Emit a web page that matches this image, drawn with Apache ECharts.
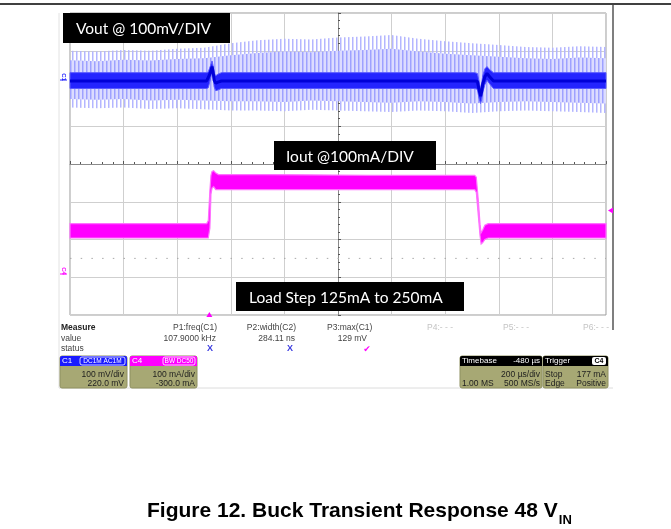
<!DOCTYPE html>
<html><head><meta charset="utf-8">
<script src="https://cdn.jsdelivr.net/npm/echarts@6/dist/echarts.min.js"></script>
<style>html,body{margin:0;padding:0;background:#fff}#c{width:671px;height:529px}</style>
</head><body><div id="c"></div>
<script>
// ---------------- data ----------------
// screen: 10 div x 8 div
const divX = [-5, 5];
const divY = [-4, 4];
const refLevelDiv = -2.5;                  // faint dotted reference line
// time axis: 200 us/div, trigger delay -480 us
const timeRange = [-520, 1480];            // us
// C1 Vout: 100 mV/div, offset 220 mV
const voutRange = [-620, 180];             // mV
// C4 Iout: 100 mA/div, offset -300 mA
const ioutRange = [-100, 700];             // mA
const triggerTime = 0;                     // us
const triggerLevel = 177;                  // mA

// Vout switching-noise spike envelope (mV)
const spikeTime = [-520,-420,-320,-220,-120,-20,80,180,280,380,480,580,680,780,880,980,1080,1180,1280,1380,1480];
const spikeHi   = [80,78,82,80,85,88,100,108,112,110,115,118,122,112,105,100,95,90,88,92,90];
const spikeLo   = [-70,-72,-70,-74,-72,-75,-78,-78,-80,-76,-78,-80,-82,-78,-80,-85,-80,-78,-80,-82,-85];
// denser inner part of the spikes (mV)
const spikeInHi = [55,52,56,54,58,60,68,74,78,76,80,82,85,78,72,68,64,60,58,62,60];
const spikeInLo = [-48,-50,-48,-52,-50,-52,-54,-54,-56,-52,-54,-56,-58,-54,-56,-60,-56,-54,-56,-58,-60];

// Vout dense trace band (mV)
const denseTime = [-520,-300,-100,-10,-4,4,10,14,18,24,32,45,200,500,800,990,1000,1006,1012,1016,1020,1028,1036,1046,1060,1200,1480];
const denseHi   = [22,22,22,22,24,40,53,40,20,14,18,22,22,22,22,22,20,0,-20,-8,14,32,38,30,22,22,22];
const denseLo   = [-20,-20,-20,-20,-18,5,25,8,-16,-26,-24,-20,-20,-20,-20,-20,-22,-45,-60,-50,-30,-10,2,-8,-20,-20,-20];
const voutMid   = [0,0,0,0,3,22,38,24,2,-6,-3,0,0,0,0,0,-1,-22,-40,-29,-8,11,20,11,0,0,0];

// Iout trace band (mA), load step 125 mA -> 250 mA
const iTime = [-520,-10,-4,2,6,10,16,24,34,50,200,600,990,996,1004,1010,1014,1020,1028,1040,1060,1480];
const iHi   = [142,142,150,230,270,280,282,276,272,272,272,270,270,265,200,140,118,125,138,142,142,142];
const iLo   = [104,104,104,130,220,236,240,232,232,232,232,232,232,225,160,110,88,92,100,104,104,104];

// texts
const labelVout = 'Vout @ 100mV/DIV';
const labelIout = 'Iout @100mA/DIV';
const labelLoad = 'Load Step 125mA to 250mA';
const measNames = ['P1:freq(C1)', 'P2:width(C2)', 'P3:max(C1)'];
const measValues = ['107.9000 kHz', '284.11 ns', '129 mV'];
const captionMain = 'Figure 12. Buck Transient Response 48 V';
const captionSub = 'IN';

// ---------------- chart ----------------
const chart = echarts.init(document.getElementById('c'), null, {renderer: 'canvas'});

function stripePattern(color, period, w, off, bg) {
  const cv = document.createElement('canvas');
  cv.width = period; cv.height = 2;
  const ctx = cv.getContext('2d');
  if (bg) { ctx.fillStyle = bg; ctx.fillRect(0, 0, period, 2); }
  ctx.fillStyle = color;
  ctx.fillRect(off || 0, 0, w, 2);
  return {image: cv, repeat: 'repeat'};
}

function band(name, times, lo, hi, yAxisIndex, style, z) {
  return {
    type: 'custom', name, xAxisIndex: 1, yAxisIndex, z, silent: true,
    data: times.map((t, i) => [t, lo[i], hi[i]]),
    encode: {x: 0, y: [1, 2]},
    renderItem: function (params, api) {
      if (params.dataIndex !== 0) return null;
      const pts = [];
      for (let i = 0; i < times.length; i++) pts.push(api.coord([times[i], hi[i]]));
      for (let i = times.length - 1; i >= 0; i--) pts.push(api.coord([times[i], lo[i]]));
      return {type: 'polygon', shape: {points: pts}, style: style};
    }
  };
}

const G = {left: 70, top: 13, width: 536, height: 302};

const option = {
  animation: false,
  backgroundColor: '#fff',
  grid: Object.assign({show: true, borderColor: '#9a9a9a', borderWidth: 1, backgroundColor: 'transparent'}, G),
  xAxis: [
    {type: 'value', min: divX[0], max: divX[1], interval: 1,
     axisLine: {show: true, onZero: true, onZeroAxisIndex: 0, lineStyle: {color: '#8a8a8a', width: 1}},
     axisTick: {show: true, inside: true, length: 3, lineStyle: {color: '#555'}},
     minorTick: {show: true, splitNumber: 5, length: 2, lineStyle: {color: '#555'}},
     axisLabel: {show: false},
     splitLine: {show: true, lineStyle: {color: '#cfcfcf', width: 1}}},
    {type: 'value', min: timeRange[0], max: timeRange[1], show: false}
  ],
  yAxis: [
    {type: 'value', min: divY[0], max: divY[1], interval: 1,
     axisLine: {show: true, onZero: true, onZeroAxisIndex: 0, lineStyle: {color: '#8a8a8a', width: 1}},
     axisTick: {show: true, inside: true, length: 3, lineStyle: {color: '#555'}},
     minorTick: {show: true, splitNumber: 5, length: 2, lineStyle: {color: '#555'}},
     axisLabel: {show: false},
     splitLine: {show: true, lineStyle: {color: '#cfcfcf', width: 1}}},
    {type: 'value', min: voutRange[0], max: voutRange[1], show: false},
    {type: 'value', min: ioutRange[0], max: ioutRange[1], show: false}
  ],
  series: [
    {type: 'line', xAxisIndex: 0, yAxisIndex: 0, silent: true, symbol: 'none', z: 1,
     data: [[divX[0], refLevelDiv], [divX[1], refLevelDiv]],
     lineStyle: {color: '#a8a8a8', width: 1, type: [1.5, 9.2]}},
    band('Vout noise', spikeTime, spikeLo, spikeHi, 1, {fill: stripePattern('#b4b6ff', 4, 1.5, 0)}, 3),
    band('Vout noise inner', spikeTime, spikeInLo, spikeInHi, 1, {fill: stripePattern('#9ea1ff', 4, 1.5, 2, '#dcdcff')}, 3),
    band('Vout', denseTime, denseLo, denseHi, 1, {fill: '#2424ff', stroke: '#5b5bff', lineWidth: 1}, 4),
    {type: 'line', xAxisIndex: 1, yAxisIndex: 1, silent: true, symbol: 'none', z: 5,
     data: denseTime.map((t, i) => [t, voutMid[i]]),
     lineStyle: {color: '#0000d8', width: 3}},
    band('Iout', iTime, iLo, iHi, 2, {fill: '#ff00ff', stroke: '#ff70ff', lineWidth: 1.2}, 4)
  ]
};
chart.setOption(option);

// ---------------- annotations ----------------
const FONT = '"Liberation Sans", Arial, sans-serif';
function T(x, y, text, o) {
  o = o || {};
  return {type: 'text', x: x, y: y, z: 100, silent: true, rotation: o.rotation || 0,
    style: {text: text, fill: o.fill || '#333', font: o.font || ('8.5px ' + FONT),
      align: o.align || 'left', verticalAlign: o.va || 'middle',
      textAlign: o.align || 'left', textVerticalAlign: o.va || 'middle'}};
}
function R(x, y, w, h, fill, o) {
  o = o || {};
  return {type: 'rect', z: 99, silent: true, shape: {x: x, y: y, width: w, height: h, r: o.r || 0},
    style: {fill: fill, stroke: o.stroke || null, lineWidth: o.lw || 1}};
}
function L(x1, y1, x2, y2, color, w) {
  return {type: 'line', z: 98, silent: true, shape: {x1: x1, y1: y1, x2: x2, y2: y2},
    style: {stroke: color, lineWidth: w || 1}};
}

const ctx = document.createElement('canvas').getContext('2d');
const capFont = 'bold 21px ' + FONT;
ctx.font = capFont;
const capW = ctx.measureText(captionMain).width;
const capX = 147;

const seriesI = 5;
const trigPt = chart.convertToPixel({seriesIndex: seriesI}, [triggerTime, triggerLevel]);
const gRight = G.left + G.width, gBottom = G.top + G.height;

const OLIVE = '#a7a874';
const LBL = '15.5px Lato, "Open Sans", sans-serif';
const els = [
  L(0, 4, 671, 4, '#000', 1.5),
  L(613, 5, 613, 330, '#555', 1.5),
  L(59, 13, 59, 388, '#e2e2e2', 1),
  L(59, 388, 613, 388, '#dcdcdc', 1),
  // label boxes
  R(63, 13, 167, 30, '#000'), T(76, 29, labelVout, {fill: '#fff', font: LBL}),
  R(274, 141, 162, 29, '#000'), T(286, 157, labelIout, {fill: '#fff', font: LBL}),
  R(236, 282, 228, 29, '#000'), T(249, 298, labelLoad, {fill: '#fff', font: LBL}),
  // channel markers
  T(64, 77, 'C1', {fill: '#2020ff', font: 'bold 6px ' + FONT, align: 'center', rotation: -Math.PI / 2}),
  L(60, 80, 67, 80, '#2020ff', 1),
  T(64, 271, 'C4', {fill: '#ff00ff', font: 'bold 6px ' + FONT, align: 'center', rotation: -Math.PI / 2}),
  L(60, 274, 67, 274, '#ff00ff', 1),
  // trigger markers
  {type: 'polygon', z: 100, silent: true, shape: {points: [[trigPt[0], gBottom - 3], [trigPt[0] - 3, gBottom + 2], [trigPt[0] + 3, gBottom + 2]]}, style: {fill: '#ff00ff'}},
  {type: 'polygon', z: 100, silent: true, shape: {points: [[gRight + 2, trigPt[1]], [gRight + 7, trigPt[1] - 3], [gRight + 7, trigPt[1] + 3]]}, style: {fill: '#ff00ff'}},
  // measure table
  T(61, 328, 'Measure', {font: 'bold 8.5px ' + FONT, fill: '#222'}),
  T(61, 339, 'value', {fill: '#444'}),
  T(61, 349, 'status', {fill: '#444'}),
  T(217, 328, measNames[0], {align: 'right', fill: '#444'}),
  T(296, 328, measNames[1], {align: 'right', fill: '#444'}),
  T(327, 328, measNames[2], {fill: '#444'}),
  T(216, 339, measValues[0], {align: 'right', fill: '#444'}),
  T(295, 339, measValues[1], {align: 'right', fill: '#444'}),
  T(367, 339, measValues[2], {align: 'right', fill: '#444'}),
  T(210, 349, 'X', {align: 'center', fill: '#3a3ae0', font: 'bold 9px ' + FONT}),
  T(290, 349, 'X', {align: 'center', fill: '#3a3ae0', font: 'bold 9px ' + FONT}),
  T(367, 350, '\u2714', {align: 'center', fill: '#ff00ff', font: '9px "DejaVu Sans"'}),
  T(427, 328, 'P4:- - -', {fill: '#c4c4c4'}),
  T(503, 328, 'P5:- - -', {fill: '#c4c4c4'}),
  T(583, 328, 'P6:- - -', {fill: '#c4c4c4'}),
  // C1 box
  R(60, 356, 67, 32, OLIVE, {r: 2, stroke: '#8e9060'}),
  R(60, 356, 67, 10, '#1a1aff', {r: [2, 2, 0, 0]}),
  T(62, 361, 'C1', {fill: '#fff', font: '8px ' + FONT}),
  R(80, 357, 45, 8, '#1a1aff', {r: 2, stroke: '#fff', lw: 0.8}),
  T(102.5, 361, 'DC1M AC1M', {fill: '#fff', font: '6.5px ' + FONT, align: 'center'}),
  T(124, 375, '100 mV/div', {align: 'right', fill: '#1e1e1e'}),
  T(124, 384, '220.0 mV', {align: 'right', fill: '#1e1e1e'}),
  // C4 box
  R(130, 356, 67, 32, OLIVE, {r: 2, stroke: '#8e9060'}),
  R(130, 356, 67, 10, '#ff00ff', {r: [2, 2, 0, 0]}),
  T(132, 361, 'C4', {fill: '#fff', font: '8px ' + FONT}),
  R(163, 357, 32, 8, '#ff00ff', {r: 2, stroke: '#fff', lw: 0.8}),
  T(179, 361, 'BW DC50', {fill: '#fff', font: '6.5px ' + FONT, align: 'center'}),
  T(195, 375, '100 mA/div', {align: 'right', fill: '#1e1e1e'}),
  T(195, 384, '-300.0 mA', {align: 'right', fill: '#1e1e1e'}),
  // Timebase box
  R(460, 356, 82, 32, OLIVE, {r: 2, stroke: '#8e9060'}),
  R(460, 356, 82, 10, '#000', {r: [2, 2, 0, 0]}),
  T(462, 361, 'Timebase', {fill: '#fff', font: '8px ' + FONT}),
  T(540, 361, '-480 \u00b5s', {fill: '#fff', font: '8px ' + FONT, align: 'right'}),
  T(540, 375, '200 \u00b5s/div', {align: 'right', fill: '#1e1e1e'}),
  T(462, 384, '1.00 MS', {fill: '#1e1e1e'}),
  T(540, 384, '500 MS/s', {align: 'right', fill: '#1e1e1e'}),
  // Trigger box
  R(543, 356, 65, 32, OLIVE, {r: 2, stroke: '#8e9060'}),
  R(543, 356, 65, 10, '#000', {r: [2, 2, 0, 0]}),
  T(545, 361, 'Trigger', {fill: '#fff', font: '8px ' + FONT}),
  R(592, 357, 14, 8, '#fff', {r: 2}),
  T(599, 361, 'C4', {fill: '#000', font: 'bold 7px ' + FONT, align: 'center'}),
  T(545, 375, 'Stop', {fill: '#1e1e1e'}),
  T(606, 375, '177 mA', {align: 'right', fill: '#1e1e1e'}),
  T(545, 384, 'Edge', {fill: '#1e1e1e'}),
  T(606, 384, 'Positive', {align: 'right', fill: '#1e1e1e'}),
  // caption
  T(capX, 511, captionMain, {fill: '#000', font: capFont}),
  T(capX + capW + 1, 520, captionSub, {fill: '#000', font: 'bold 13px ' + FONT})
];
chart.setOption({graphic: {elements: els}});
</script></body></html>
